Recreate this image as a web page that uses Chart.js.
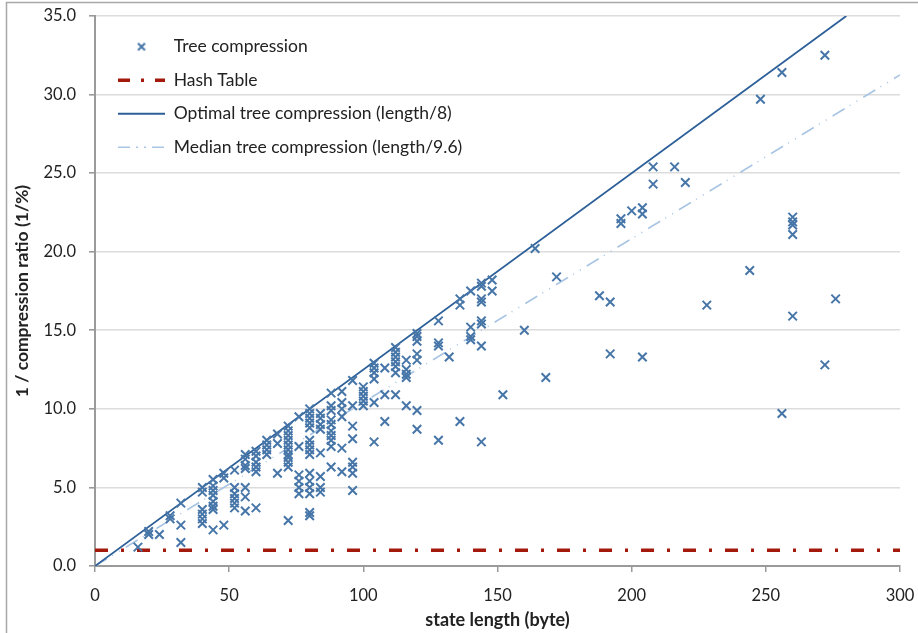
<!DOCTYPE html>
<html>
<head>
<meta charset="utf-8">
<script src="https://cdn.jsdelivr.net/npm/chart.js@4.4.1/dist/chart.umd.min.js"></script>
<style>
  html, body { margin: 0; padding: 0; background: #fff; }
  #wrap { width: 918px; height: 633px; }
</style>
</head>
<body>
<div id="wrap"><canvas id="chart"></canvas></div>
<script>
// state lengths (byte) that were measured, and the 1/ratio values seen at each
const treeLengths = [16, 20, 24, 28, 32, 40, 44, 48, 52, 56, 60, 64, 68, 72, 76, 80, 84, 88, 92, 96,
  100, 104, 108, 112, 116, 120, 128, 132, 136, 140, 144, 148, 152, 160, 164, 168, 172, 188, 192,
  196, 200, 204, 208, 216, 220, 228, 244, 248, 256, 260, 272, 276];
const treeRatios = [
  [1.2], [2.2, 2.0], [2.0], [3.2, 3.0], [4.0, 2.6, 1.5],
  [5.0, 4.7, 3.6, 3.3, 3.0, 2.7],
  [5.5, 5.1, 4.8, 4.5, 4.1, 3.8, 3.6, 2.3],
  [5.9, 5.6, 2.6],
  [6.1, 5.0, 4.6, 4.3, 4.0, 3.7],
  [7.1, 6.8, 6.4, 6.2, 5.0, 4.4, 3.5],
  [7.3, 7.0, 6.6, 6.3, 6.0, 3.7],
  [8.0, 7.7, 7.4, 7.1],
  [8.4, 7.8, 5.9],
  [8.9, 8.6, 8.3, 8.0, 7.7, 7.4, 7.1, 6.9, 6.6, 6.3, 2.9],
  [9.5, 7.6, 5.8, 5.4, 5.0, 4.6],
  [10.0, 9.7, 9.4, 9.1, 8.8, 8.0, 7.7, 7.4, 7.1, 5.9, 5.4, 5.0, 4.6, 3.4, 3.2],
  [9.7, 9.4, 9.0, 8.7, 7.2, 5.7, 5.0, 4.7],
  [11.0, 10.2, 9.9, 9.3, 9.0, 8.6, 8.3, 8.0, 7.6, 6.3],
  [11.1, 10.4, 10.0, 9.5, 7.5, 6.0],
  [11.8, 10.2, 8.9, 8.1, 6.6, 6.3, 5.9, 4.8],
  [11.4, 11.1, 10.8, 10.5, 10.2],
  [12.9, 12.6, 12.3, 11.9, 10.4, 7.9],
  [12.6, 10.9, 9.2],
  [13.9, 13.6, 13.3, 13.0, 12.7, 12.3, 10.9],
  [13.1, 12.5, 12.2, 12.0, 10.2],
  [14.8, 14.6, 14.3, 13.5, 13.1, 9.9, 8.7],
  [15.6, 14.2, 14.0, 8.0],
  [13.3],
  [17.0, 16.6, 9.2],
  [17.5, 15.2, 14.6, 14.4],
  [18.0, 17.8, 17.0, 16.8, 15.6, 15.4, 14.0, 7.9],
  [18.2, 17.5],
  [10.9], [15.0], [20.2], [12.0], [18.4], [17.2],
  [16.8, 13.5],
  [22.1, 21.8],
  [22.6],
  [22.8, 22.4, 13.3],
  [25.4, 24.3],
  [25.4], [24.4], [16.6], [18.8], [29.7],
  [31.4, 9.7],
  [22.2, 21.9, 21.7, 21.1, 15.9],
  [32.5, 12.8],
  [17.0]
];

// reference lines (end points)
const hashX = [0, 300];
const hashY = [1, 1];
const optimalX = [0, 280];
const optimalY = [0, 35];
const medianX = [0, 300];
const medianY = [0, 31.25];

const seriesNames = ["Tree compression", "Hash Table",
  "Optimal tree compression (length/8)", "Median tree compression (length/9.6)"];

const toPoints = (xs, ys) => xs.map((x, i) => ({ x: x, y: ys[i] }));
const treePoints = [];
treeLengths.forEach((len, i) => {
  treeRatios[i].forEach((r) => treePoints.push({ x: len, y: r }));
});

const FONT = "Lato";
const TEXT = "#222";
const AXIS = "#9a9a9a";
const TREE_COLOR = "#4675a8";

// small x icon for the legend (the built-in crossRot gets stretched by pointStyleWidth)
const crossIcon = document.createElement("canvas");
crossIcon.width = 10;
crossIcon.height = 10;
(function () {
  const c = crossIcon.getContext("2d");
  c.strokeStyle = TREE_COLOR;
  c.lineWidth = 2;
  c.beginPath();
  c.moveTo(1.5, 1.5); c.lineTo(8.5, 8.5);
  c.moveTo(8.5, 1.5); c.lineTo(1.5, 8.5);
  c.stroke();
})();

// grey frame around the whole figure
const frame = {
  id: "frame",
  beforeDraw(chart) {
    const ctx = chart.ctx;
    ctx.save();
    ctx.strokeStyle = "#a8a8a8";
    ctx.lineWidth = 1.5;
    ctx.strokeRect(6.5, 2.5, 2000, 2000);
    ctx.restore();
  },
};

// nudge the in-plot legend a little right / down
const legendNudge = {
  id: "legendNudge",
  afterLayout(chart) {
    const lg = chart.legend;
    if (!lg) return;
    lg.left += 7; lg.right += 7;
    lg.top += 22; lg.bottom += 22;
  },
};

new Chart(document.getElementById("chart"), {
  type: "scatter",
  data: {
    datasets: [
      {
        label: seriesNames[0],
        data: treePoints,
        pointStyle: "crossRot",
        pointRadius: 6,
        pointHoverRadius: 6,
        borderColor: TREE_COLOR,
        backgroundColor: TREE_COLOR,
        borderWidth: 2,
      },
      {
        label: seriesNames[1],
        data: toPoints(hashX, hashY),
        showLine: true,
        borderColor: "#a3190b",
        backgroundColor: "#a3190b",
        borderWidth: 3.5,
        borderDash: [13, 13, 3, 13],
        pointRadius: 0,
        pointStyle: "line",
      },
      {
        label: seriesNames[2],
        data: toPoints(optimalX, optimalY),
        showLine: true,
        borderColor: "#2c5f98",
        backgroundColor: "#2c5f98",
        borderWidth: 1.8,
        pointRadius: 0,
        pointStyle: "line",
      },
      {
        label: seriesNames[3],
        data: toPoints(medianX, medianY),
        showLine: true,
        borderColor: "#a9c5e3",
        backgroundColor: "#a9c5e3",
        borderWidth: 1.6,
        borderDash: [14, 6, 1, 7, 1, 7],
        pointRadius: 0,
        pointStyle: "line",
      },
    ],
  },
  options: {
    responsive: true,
    maintainAspectRatio: false,
    animation: false,
    layout: { padding: { top: 16, right: 18, bottom: 0, left: 0 } },
    plugins: {
      tooltip: { enabled: false },
      legend: {
        position: "chartArea",
        align: "start",
        labels: {
          usePointStyle: true,
          pointStyleWidth: 47,
          boxHeight: 7,
          padding: 16,
          color: TEXT,
          font: { family: FONT, size: 17.5 },
          generateLabels(chart) {
            const items = Chart.defaults.plugins.legend.labels.generateLabels(chart);
            items.forEach((it) => {
              const ds = chart.data.datasets[it.datasetIndex];
              it.strokeStyle = ds.borderColor;
              it.fillStyle = ds.borderColor;
              it.lineWidth = ds.borderWidth;
              it.lineDash = ds.borderDash || [];
              it.pointStyle = ds.pointStyle;
            });
            items[0].pointStyle = crossIcon;
            items[1].lineDash = [12, 11, 3, 11];
            items[3].lineDash = [12, 6, 2, 6, 2, 6];
            return items;
          },
        },
      },
    },
    scales: {
      x: {
        type: "linear",
        min: 0,
        max: 300,
        ticks: { stepSize: 50, color: TEXT, font: { family: FONT, size: 16.5 }, padding: 14 },
        grid: { drawOnChartArea: false, drawTicks: true, tickLength: 6, color: AXIS, lineWidth: 1.5 },
        border: { color: AXIS, width: 2 },
        title: {
          display: true,
          text: "state length (byte)",
          color: TEXT,
          font: { family: FONT, size: 18, weight: "bold" },
          padding: { top: 0, bottom: 2 },
        },
        afterFit(s) {
          s.height = 67;
          s.paddingLeft = 0;
          s.paddingRight = 0;
        },
      },
      y: {
        min: 0,
        max: 35,
        ticks: {
          stepSize: 5,
          color: TEXT,
          font: { family: FONT, size: 16.5 },
          padding: 13,
          callback: (v) => v.toFixed(1),
        },
        grid: { color: "#dcdcdc", lineWidth: 1.6, tickColor: AXIS, tickLength: 6 },
        border: { color: AXIS, width: 2 },
        title: {
          display: true,
          text: "1 / compression ratio (1/%)",
          color: TEXT,
          font: { family: FONT, size: 17.5, weight: "bold" },
          padding: { top: 11.5, bottom: 0 },
        },
        afterFit(s) {
          s.width = 95;
          s.paddingTop = 0;
          s.paddingBottom = 0;
        },
      },
    },
  },
  plugins: [frame, legendNudge],
});
</script>
</body>
</html>
